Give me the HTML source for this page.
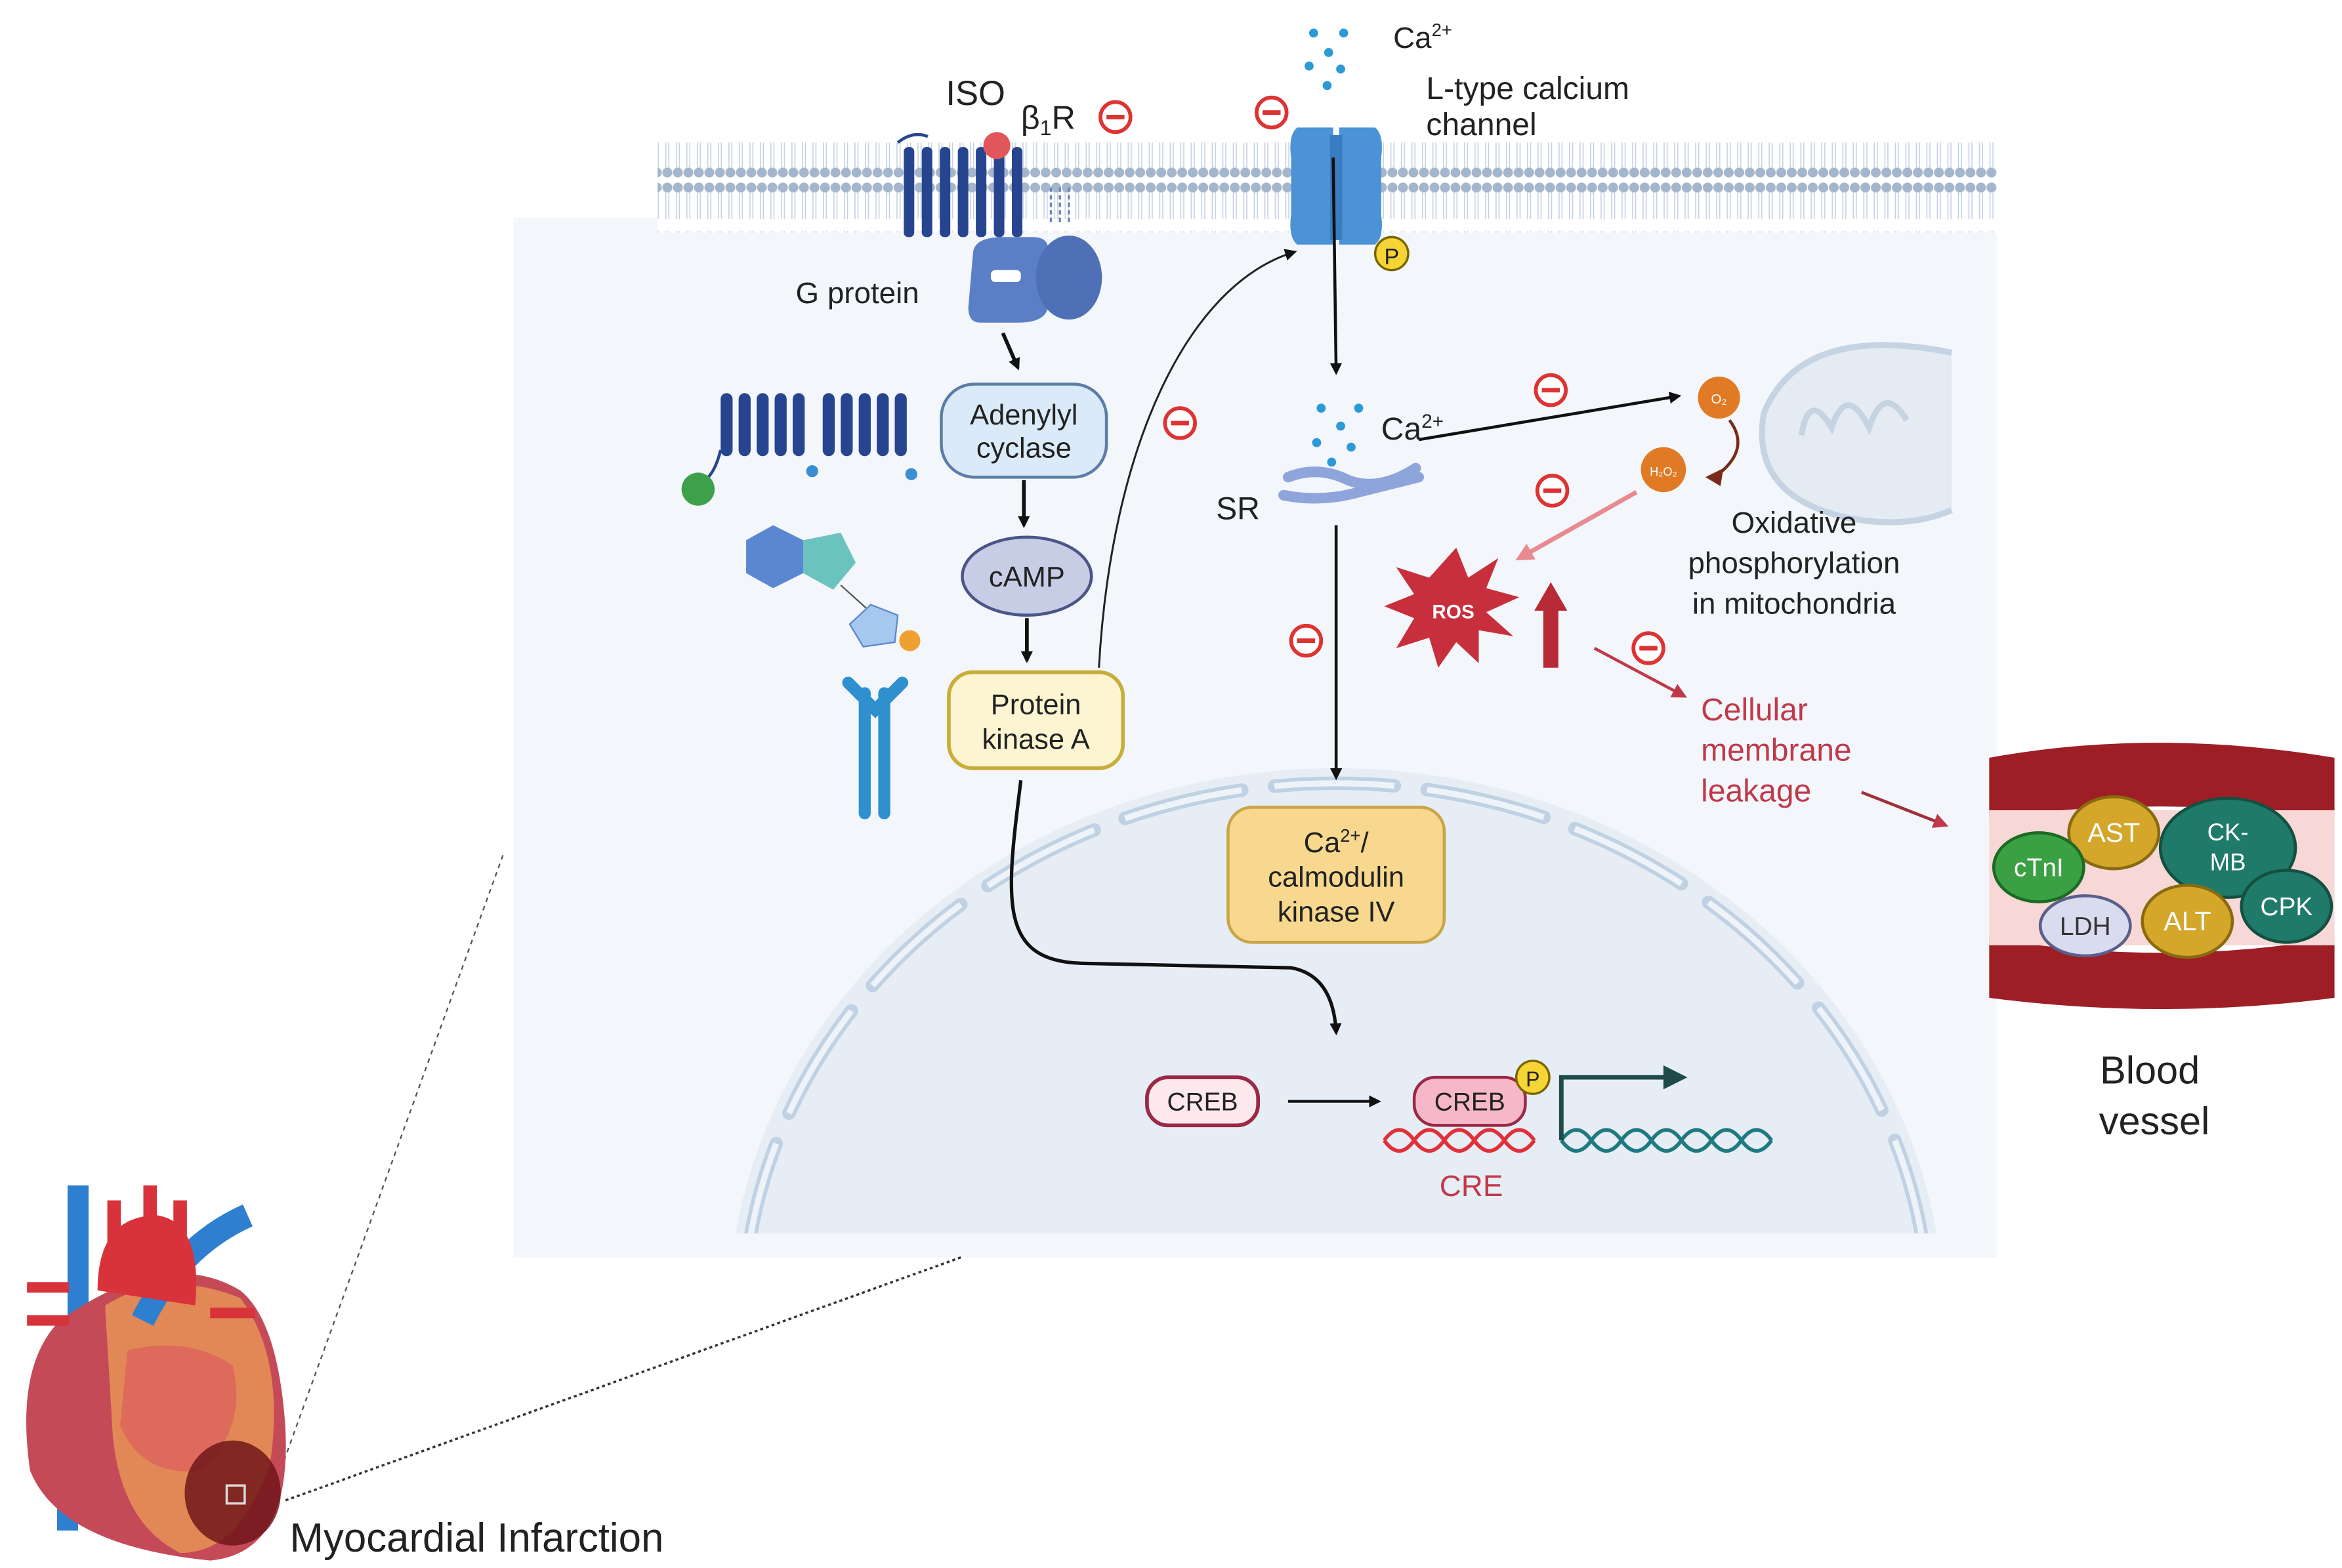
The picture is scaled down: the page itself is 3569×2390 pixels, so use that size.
<!DOCTYPE html>
<html><head><meta charset="utf-8"><style>html,body{margin:0;padding:0;background:#fff;overflow:hidden;width:3569px;height:2390px}svg{display:block}text{font-family:"Liberation Sans",sans-serif}</style></head><body>
<svg width="3569" height="2390" viewBox="0 0 1560 1045" preserveAspectRatio="none" xmlns="http://www.w3.org/2000/svg">
<defs>
<marker id="ah" markerWidth="8" markerHeight="8" refX="6" refY="4" orient="auto" markerUnits="userSpaceOnUse"><path d="M0,0 L8,4 L0,8 z" fill="#111"/></marker>
<marker id="ahr" markerWidth="10" markerHeight="10" refX="8" refY="5" orient="auto" markerUnits="userSpaceOnUse"><path d="M0,0 L10,5 L0,10 z" fill="#c0394a"/></marker>
<marker id="ahp" markerWidth="12" markerHeight="12" refX="9" refY="6" orient="auto" markerUnits="userSpaceOnUse"><path d="M0,0 L12,6 L0,12 z" fill="#e98a90"/></marker>
<pattern id="dots" width="7" height="60" patternUnits="userSpaceOnUse"><circle cx="3.5" cy="5" r="3.3" fill="#a4b6cc"/><circle cx="3.5" cy="55" r="3.3" fill="#a4b6cc"/><line x1="2.5" y1="8" x2="2.5" y2="26" stroke="#c5d1e0" stroke-width="0.7"/><line x1="4.5" y1="8" x2="4.5" y2="26" stroke="#c5d1e0" stroke-width="0.7"/><line x1="2.5" y1="34" x2="2.5" y2="52" stroke="#c5d1e0" stroke-width="0.7"/><line x1="4.5" y1="34" x2="4.5" y2="52" stroke="#c5d1e0" stroke-width="0.7"/></pattern>
<clipPath id="cellclip"><rect x="342" y="145" width="988" height="677"/></clipPath>
</defs>
<rect width="1560" height="1045" fill="#fff"/>
<rect x="342" y="145" width="988" height="693" fill="#f3f6fa"/>
<rect x="438" y="95" width="892" height="60" fill="#fff"/>
<rect x="438" y="95" width="892" height="60" fill="url(#dots)"/>
<g clip-path="url(#cellclip)">
<ellipse cx="890" cy="880" rx="405" ry="368" fill="#e6edf5"/>
<ellipse cx="890" cy="880" rx="395" ry="358" fill="none" stroke="#bfd1e3" stroke-width="9" stroke-dasharray="80 22" stroke-linecap="round"/>
<ellipse cx="890" cy="880" rx="395" ry="358" fill="none" stroke="#eef3f9" stroke-width="4" stroke-dasharray="80 22"/>
</g>
<line x1="335" y1="570" x2="185" y2="985" stroke="#555" stroke-width="1" stroke-dasharray="3 3"/>
<line x1="640" y1="838" x2="190" y2="1000" stroke="#333" stroke-width="1.5" stroke-dasharray="2 2"/>
<g fill="#27458f">
<rect x="602" y="98" width="7" height="60" rx="3"/><rect x="614" y="98" width="7" height="60" rx="3"/><rect x="626" y="98" width="7" height="60" rx="3"/><rect x="638" y="98" width="7" height="60" rx="3"/><rect x="650" y="98" width="7" height="60" rx="3"/><rect x="662" y="98" width="7" height="60" rx="3"/><rect x="674" y="98" width="7" height="60" rx="3"/>
</g>
<path d="M598,95 q10,-8 20,-4" stroke="#27458f" stroke-width="2" fill="none"/>
<circle cx="664" cy="97" r="9" fill="#e0565a"/>
<path d="M700,125 v25 M706,125 v25 M712,125 v25" stroke="#6a86c0" stroke-width="1.5" stroke-dasharray="3 2"/>
<path d="M648,170 q0,-12 20,-12 h20 q12,0 10,12 v35 q-2,10 -20,10 h-25 q-8,0 -8,-10 z" fill="#5b7fc6"/>
<ellipse cx="712" cy="185" rx="22" ry="28" fill="#4f6fb6"/>
<rect x="660" y="180" width="20" height="8" rx="3" fill="#fff"/>
<text x="530" y="202" font-size="20" fill="#222">G protein</text>
<text x="630" y="70" font-size="23" fill="#222">ISO</text>
<text x="680" y="86" font-size="22" fill="#222">β<tspan font-size="14" dy="4">1</tspan><tspan dy="-4">R</tspan></text>
<g fill="#fff" stroke="#d33" stroke-width="2.5">
<circle cx="743" cy="78" r="10"/><circle cx="847" cy="75" r="10"/><circle cx="786" cy="282" r="10"/><circle cx="1033" cy="260" r="10"/><circle cx="1034" cy="327" r="10"/><circle cx="870" cy="427" r="10"/><circle cx="1098" cy="432" r="10"/>
</g>
<g stroke="#d33" stroke-width="3">
<line x1="737" y1="78" x2="749" y2="78"/><line x1="841" y1="75" x2="853" y2="75"/><line x1="780" y1="282" x2="792" y2="282"/><line x1="1027" y1="260" x2="1039" y2="260"/><line x1="1028" y1="327" x2="1040" y2="327"/><line x1="864" y1="427" x2="876" y2="427"/><line x1="1092" y1="432" x2="1104" y2="432"/>
</g>
<g fill="#2b9ad6"><circle cx="875" cy="22" r="3"/><circle cx="895" cy="22" r="3"/><circle cx="885" cy="35" r="3"/><circle cx="872" cy="44" r="3"/><circle cx="893" cy="46" r="3"/><circle cx="884" cy="57" r="3"/></g>
<text x="928" y="32" font-size="20" fill="#222">Ca<tspan font-size="12" dy="-8">2+</tspan></text>
<text x="950" y="66" font-size="21" fill="#222">L-type calcium</text>
<text x="950" y="90" font-size="21" fill="#222">channel</text>
<path d="M864,85 h24 v78 h-24 q-6,-5 -4,-20 v-38 q-2,-15 4,-20 z" fill="#4b92d6"/>
<path d="M892,85 h24 q6,5 4,20 v38 q2,15 -4,20 h-24 z" fill="#4b92d6"/>
<rect x="886" y="90" width="8" height="70" fill="#3a7cc0"/>
<circle cx="927" cy="169" r="11" fill="#f5d536" stroke="#7a6400" stroke-width="1.5"/>
<text x="927" y="176" font-size="15" text-anchor="middle" fill="#222">P</text>
<line x1="888" y1="105" x2="890" y2="248" stroke="#111" stroke-width="2" marker-end="url(#ah)"/>
<line x1="668" y1="222" x2="678" y2="245" stroke="#111" stroke-width="2.5" marker-end="url(#ah)"/>
<rect x="627" y="256" width="110" height="62" rx="22" fill="#dbeaf8" stroke="#5c7ea6" stroke-width="2"/>
<text x="682" y="283" font-size="19" text-anchor="middle" fill="#222">Adenylyl</text>
<text x="682" y="305" font-size="19" text-anchor="middle" fill="#222">cyclase</text>
<line x1="682" y1="320" x2="682" y2="350" stroke="#111" stroke-width="2.5" marker-end="url(#ah)"/>
<ellipse cx="684" cy="384" rx="43" ry="26" fill="#c8cde6" stroke="#4c5588" stroke-width="2"/>
<text x="684" y="391" font-size="19" text-anchor="middle" fill="#222">cAMP</text>
<line x1="684" y1="412" x2="684" y2="440" stroke="#111" stroke-width="2.5" marker-end="url(#ah)"/>
<rect x="632" y="448" width="116" height="64" rx="16" fill="#fdf5d2" stroke="#c9ad3a" stroke-width="2.5"/>
<text x="690" y="476" font-size="19" text-anchor="middle" fill="#222">Protein</text>
<text x="690" y="499" font-size="19" text-anchor="middle" fill="#222">kinase A</text>
<path d="M732,445 C740,300 790,190 862,168" stroke="#222" stroke-width="1.3" fill="none" marker-end="url(#ah)"/>
<path d="M680,520 C670,600 665,640 720,642 L860,645 Q888,650 890,688" stroke="#111" stroke-width="2.3" fill="none" marker-end="url(#ah)"/>
<g fill="#27458f">
<rect x="480" y="262" width="8" height="42" rx="4"/><rect x="492" y="262" width="8" height="42" rx="4"/><rect x="504" y="262" width="8" height="42" rx="4"/><rect x="516" y="262" width="8" height="42" rx="4"/><rect x="528" y="262" width="8" height="42" rx="4"/>
<rect x="548" y="262" width="8" height="42" rx="4"/><rect x="560" y="262" width="8" height="42" rx="4"/><rect x="572" y="262" width="8" height="42" rx="4"/><rect x="584" y="262" width="8" height="42" rx="4"/><rect x="596" y="262" width="8" height="42" rx="4"/>
</g>
<path d="M480,300 q-5,20 -15,22" stroke="#27458f" fill="none" stroke-width="2"/>
<circle cx="465" cy="326" r="11" fill="#3ea04a"/>
<circle cx="541" cy="314" r="4" fill="#3b8fd0"/><circle cx="607" cy="316" r="4" fill="#3b8fd0"/>
<polygon points="515,350 535,360 535,382 515,392 497,382 497,360" fill="#5a87d0"/>
<polygon points="535,360 560,355 570,375 555,393 535,382" fill="#6bc3c0"/>
<line x1="560" y1="390" x2="580" y2="408" stroke="#555"/>
<polygon points="580,403 598,410 596,428 575,431 566,416" fill="#a4c8ee" stroke="#5a87d0"/>
<circle cx="606" cy="427" r="7" fill="#f0a030"/>
<path d="M565,455 l18,18 l18,-18 M576,462 v80 M589,462 v80" stroke="#2f8fcf" stroke-width="8" fill="none" stroke-linecap="round"/>
<g fill="#2b9ad6"><circle cx="880" cy="272" r="3"/><circle cx="905" cy="272" r="3"/><circle cx="893" cy="284" r="3"/><circle cx="877" cy="295" r="3"/><circle cx="900" cy="298" r="3"/><circle cx="887" cy="308" r="3"/></g>
<text x="920" y="293" font-size="21" fill="#222">Ca<tspan font-size="13" dy="-8">2+</tspan></text>
<path d="M858,318 q20,-8 40,2 q20,8 45,-8 M855,330 q25,5 50,-2 q20,-5 40,-10" stroke="#8ea5dc" stroke-width="7" fill="none" stroke-linecap="round"/>
<text x="810" y="346" font-size="21" fill="#222">SR</text>
<line x1="890" y1="350" x2="890" y2="518" stroke="#111" stroke-width="2" marker-end="url(#ah)"/>
<line x1="945" y1="293" x2="1118" y2="264" stroke="#111" stroke-width="2" marker-end="url(#ah)"/>
<path d="M1300,235 q-100,-20 -125,40 q-10,55 55,70 q40,8 70,-5" fill="#e4ebf3" stroke="#c5d3e2" stroke-width="4"/>
<path d="M1200,290 q5,-30 20,-5 q10,-30 25,0 q10,-30 25,-5" stroke="#c5d3e2" stroke-width="4" fill="none"/>
<circle cx="1145" cy="265" r="14" fill="#e07a25"/><text x="1145" y="269" font-size="9" text-anchor="middle" fill="#fff">O₂</text>
<circle cx="1108" cy="313" r="15" fill="#e07a25"/><text x="1108" y="317" font-size="8" text-anchor="middle" fill="#fff">H₂O₂</text>
<path d="M1152,280 q15,20 -10,38" stroke="#7a2a1a" stroke-width="2" fill="none"/>
<polygon points="1136,318 1148,312 1146,324" fill="#7a2a1a"/>
<text x="1195" y="355" font-size="20" text-anchor="middle" fill="#222">Oxidative</text>
<text x="1195" y="382" font-size="20" text-anchor="middle" fill="#222">phosphorylation</text>
<text x="1195" y="409" font-size="20" text-anchor="middle" fill="#222">in mitochondria</text>
<line x1="1090" y1="328" x2="1012" y2="372" stroke="#e98a90" stroke-width="3" marker-end="url(#ahp)"/>
<polygon points="970,365 978,385 998,372 990,392 1012,398 990,408 1008,424 985,420 985,442 970,428 958,445 952,425 930,432 942,412 922,404 942,396 930,378 952,385" fill="#c82f3c"/>
<text x="968" y="412" font-size="13" font-weight="bold" text-anchor="middle" fill="#fff">ROS</text>
<rect x="1028" y="405" width="10" height="40" fill="#b82a35"/><polygon points="1022,407 1033,388 1044,407" fill="#b82a35"/>
<line x1="1062" y1="432" x2="1122" y2="464" stroke="#c0394a" stroke-width="2" marker-end="url(#ahr)"/>
<text x="1133" y="480" font-size="21" fill="#c0394a">Cellular</text>
<text x="1133" y="507" font-size="21" fill="#c0394a">membrane</text>
<text x="1133" y="534" font-size="21" fill="#c0394a">leakage</text>
<line x1="1240" y1="528" x2="1296" y2="550" stroke="#a0303a" stroke-width="2" marker-end="url(#ahr)"/>
<rect x="818" y="538" width="144" height="90" rx="16" fill="#f7d88e" stroke="#c9a448" stroke-width="2"/>
<text x="890" y="568" font-size="19" text-anchor="middle" fill="#222">Ca<tspan font-size="12" dy="-7">2+</tspan><tspan dy="7">/</tspan></text>
<text x="890" y="591" font-size="19" text-anchor="middle" fill="#222">calmodulin</text>
<text x="890" y="614" font-size="19" text-anchor="middle" fill="#222">kinase IV</text>
<rect x="764" y="718" width="74" height="32" rx="14" fill="#fde8ee" stroke="#9a2a45" stroke-width="2.5"/>
<text x="801" y="740" font-size="17" text-anchor="middle" fill="#222">CREB</text>
<line x1="858" y1="734" x2="918" y2="734" stroke="#111" stroke-width="1.8" marker-end="url(#ah)"/>
<path d="M922,760 q10,-14 20,0 t20,0 t20,0 t20,0 t20,0 M922,760 q10,14 20,0 t20,0 t20,0 t20,0 t20,0" stroke="#e0303a" stroke-width="2.5" fill="none"/>
<path d="M1040,760 q10,-14 20,0 t20,0 t20,0 t20,0 t20,0 t20,0 t20,0 M1040,760 q10,14 20,0 t20,0 t20,0 t20,0 t20,0 t20,0 t20,0" stroke="#1f7a80" stroke-width="2.5" fill="none"/>
<rect x="942" y="718" width="74" height="32" rx="14" fill="#f6b8c8" stroke="#9a2a45" stroke-width="2"/>
<text x="979" y="740" font-size="17" text-anchor="middle" fill="#222">CREB</text>
<circle cx="1021" cy="718" r="11" fill="#f5d536" stroke="#7a6400" stroke-width="1.5"/>
<text x="1021" y="724" font-size="14" text-anchor="middle" fill="#222">P</text>
<path d="M1040,760 V718 H1110" stroke="#1f4a4a" stroke-width="3" fill="none"/>
<polygon points="1108,710 1124,718 1108,726" fill="#1f4a4a"/>
<text x="980" y="797" font-size="20" text-anchor="middle" fill="#c0394a">CRE</text>
<path d="M1325,505 q110,-20 230,0 v40 q-115,-15 -230,0 z" fill="#9e1e26"/>
<path d="M1325,625 q115,20 230,0 v40 q-115,15 -230,0 z" fill="#9e1e26"/>
<rect x="1325" y="540" width="230" height="90" fill="#f7d8d6"/>
<ellipse cx="1484" cy="565" rx="45" ry="33" fill="#1f7a6a" stroke="#145040" stroke-width="2"/>
<text x="1484" y="560" font-size="16" text-anchor="middle" fill="#fff">CK-</text><text x="1484" y="580" font-size="16" text-anchor="middle" fill="#fff">MB</text>
<ellipse cx="1408" cy="555" rx="30" ry="24" fill="#d4a62a" stroke="#8a6a10" stroke-width="2"/>
<text x="1408" y="561" font-size="18" text-anchor="middle" fill="#fff">AST</text>
<ellipse cx="1358" cy="578" rx="30" ry="23" fill="#3aa043" stroke="#1d6a24" stroke-width="2"/>
<text x="1358" y="584" font-size="17" text-anchor="middle" fill="#fff">cTnI</text>
<ellipse cx="1523" cy="604" rx="30" ry="24" fill="#1f7a6a" stroke="#145040" stroke-width="2"/>
<text x="1523" y="610" font-size="17" text-anchor="middle" fill="#fff">CPK</text>
<ellipse cx="1389" cy="617" rx="30" ry="20" fill="#d8dcee" stroke="#5a5f8a" stroke-width="2"/>
<text x="1389" y="623" font-size="17" text-anchor="middle" fill="#333">LDH</text>
<ellipse cx="1457" cy="614" rx="30" ry="24" fill="#d4a62a" stroke="#8a6a10" stroke-width="2"/>
<text x="1457" y="620" font-size="18" text-anchor="middle" fill="#fff">ALT</text>
<text x="1432" y="722" font-size="26" text-anchor="middle" fill="#222">Blood</text>
<text x="1435" y="756" font-size="26" text-anchor="middle" fill="#222">vessel</text>
<!-- heart -->
<path d="M45,1020 v-80" stroke="#2f7fd0" stroke-width="14"/>
<path d="M52,790 v90" stroke="#2f7fd0" stroke-width="14" fill="none"/>
<path d="M76,800 v60 M100,790 v70 M120,800 v60" stroke="#d8323a" stroke-width="9" fill="none"/>
<path d="M40,880 q-30,30 -20,100 q20,50 120,60 q55,-5 50,-90 q-5,-70 -30,-90 q-50,-30 -120,20 z" fill="#c54a58"/>
<path d="M70,870 q40,-25 90,-5 q30,40 20,110 q-20,60 -60,60 q-40,-20 -45,-80 z" fill="#e28856"/>
<path d="M85,900 q40,-10 70,10 q10,40 -20,70 q-40,5 -55,-30 z" fill="#dd6a5a"/>
<ellipse cx="155" cy="995" rx="32" ry="35" fill="#6a1015" opacity="0.8"/>
<path d="M95,880 q25,-50 70,-70" stroke="#2f7fd0" stroke-width="16" fill="none"/>
<path d="M65,860 q0,-50 40,-50 q30,5 25,60" fill="#d8323a"/>
<path d="M18,858 h28 M18,880 h28 M140,875 h30" stroke="#d8323a" stroke-width="7"/>
<rect x="151" y="990" width="12" height="12" fill="none" stroke="#ddd" stroke-width="1.5"/>
<text x="193" y="1034" font-size="27" fill="#222">Myocardial Infarction</text>
</svg>
</body></html>
